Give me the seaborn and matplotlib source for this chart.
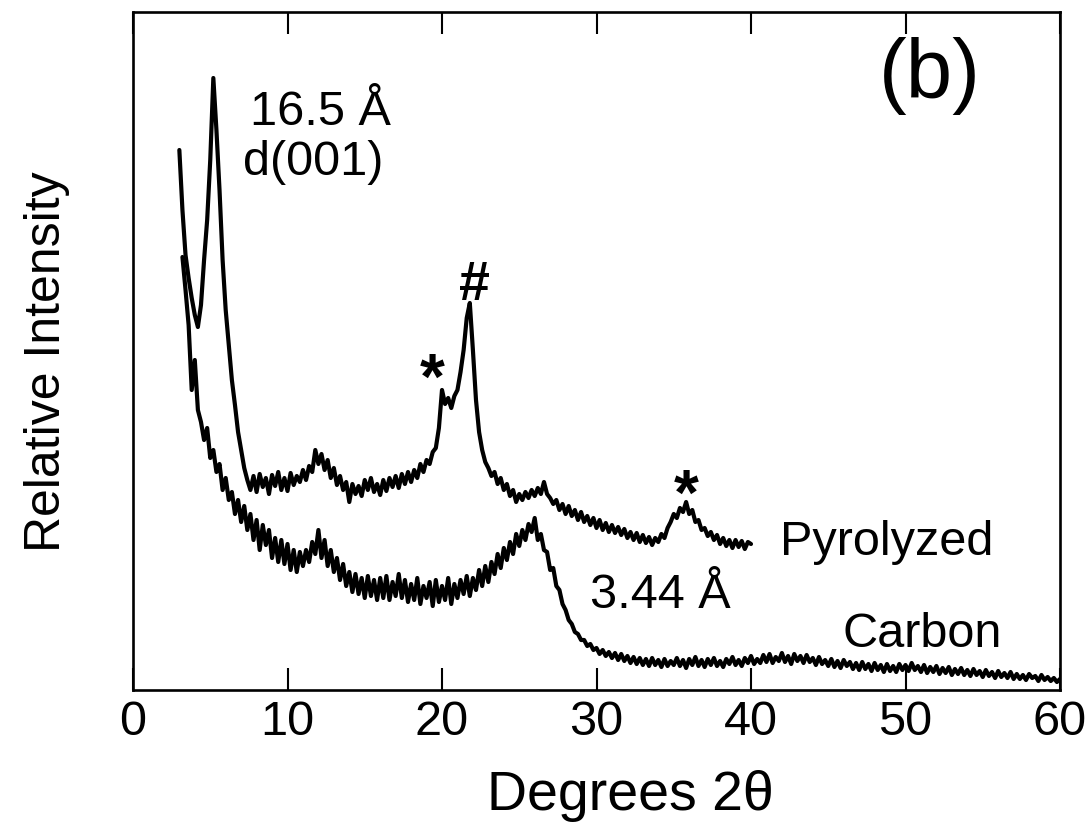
import numpy as np
import pandas as pd
import matplotlib
matplotlib.use("Agg")
import matplotlib.pyplot as plt
import seaborn as sns

# ---------------- data ----------------
# measurement grid: start angle and step (degrees 2-theta)
pyro_start, pyro_step = 3.0, 0.2
carbon_start, carbon_step = 3.2, 0.2

pyrolyzed = [
    540, 480, 435, 412, 392, 375, 363, 385, 430, 470,
    530, 612, 560, 500, 430, 380, 345, 310, 285, 258,
    240, 222, 210, 200, 214, 198, 216, 203, 212, 196,
    215, 204, 218, 200, 212, 199, 217, 205, 214, 208,
    220, 210, 224, 218, 240, 226, 236, 220, 230, 212,
    222, 205, 214, 200, 208, 188, 206, 196, 204, 194,
    210, 200, 212, 198, 206, 195, 210, 199, 212, 203,
    214, 202, 216, 206, 218, 208, 220, 212, 226, 218,
    230, 226, 238, 242, 262, 300, 286, 292, 282, 294,
    300, 318, 340, 372, 387, 340, 290, 258, 240, 228,
    222, 214, 218, 206, 212, 200, 206, 194, 200, 188,
    196, 190, 198, 192, 200, 194, 202, 196, 208, 196,
    192, 186, 190, 180, 186, 176, 184, 174, 180, 170,
    178, 168, 174, 165, 172, 162, 170, 160, 167, 158,
    165, 157, 163, 155, 161, 152, 158, 150, 157, 148,
    155, 147, 153, 145, 152, 148, 156, 152, 162, 168,
    176, 172, 182, 178, 188, 176, 180, 168, 170, 160,
    162, 154, 158, 150, 155, 146, 152, 144, 150, 142,
    150, 143, 149, 141, 148, 146,
]

carbon = [
    433, 400, 365, 300, 330, 280, 268, 250, 262, 232,
    240, 218, 226, 200, 212, 190, 198, 176, 190, 168,
    184, 160, 176, 150, 170, 140, 165, 145, 160, 132,
    152, 128, 150, 126, 146, 120, 140, 118, 138, 124,
    140, 128, 148, 136, 160, 132, 150, 124, 140, 118,
    132, 110, 126, 104, 118, 98, 116, 96, 112, 92,
    114, 94, 110, 90, 112, 92, 114, 90, 108, 94,
    116, 92, 110, 88, 106, 90, 112, 86, 104, 92,
    108, 84, 110, 88, 104, 90, 112, 86, 106, 92,
    110, 96, 114, 94, 112, 100, 120, 104, 124, 108,
    128, 116, 136, 122, 142, 130, 148, 136, 156, 144,
    160, 150, 166, 158, 172, 150, 156, 140, 138, 120,
    122, 104, 100, 86, 80, 70, 66, 58, 56, 50,
    50, 44, 46, 40, 42, 36, 40, 34, 38, 32,
    37, 30, 36, 29, 34, 27, 33, 26, 32, 25,
    31, 24, 32, 25, 30, 23, 31, 24, 29, 25,
    32, 24, 30, 22, 31, 25, 33, 24, 30, 23,
    31, 25, 32, 24, 29, 23, 31, 26, 33, 25,
    30, 24, 32, 27, 34, 26, 31, 27, 35, 28,
    36, 27, 33, 29, 37, 28, 34, 26, 36, 29,
    34, 27, 35, 28, 32, 25, 33, 26, 30, 24,
    31, 23, 29, 22, 30, 24, 28, 21, 27, 20,
    28, 21, 26, 19, 27, 20, 25, 18, 26, 19,
    24, 18, 26, 20, 25, 19, 27, 20, 24, 18,
    25, 17, 23, 18, 24, 16, 22, 17, 23, 15,
    21, 16, 22, 15, 20, 14, 21, 15, 19, 13,
    20, 14, 18, 12, 19, 13, 17, 12, 18, 11,
    16, 11, 15, 10, 16, 12, 14, 9, 15, 10,
    13, 9, 12, 8, 11,
]

x_ticks = [0, 10, 20, 30, 40, 50, 60]
x_label = "Degrees 2θ"
y_label = "Relative Intensity"

# ---------------- figure ----------------
sns.set_theme(style="white")
plt.rcParams["font.family"] = ["Liberation Sans", "DejaVu Sans"]
plt.rcParams["text.color"] = "black"
plt.rcParams["xtick.color"] = "black"
plt.rcParams["xtick.labelcolor"] = "black"

pyro_x = pyro_start + pyro_step * np.arange(len(pyrolyzed))
carbon_x = carbon_start + carbon_step * np.arange(len(carbon))
df = pd.concat([
    pd.DataFrame({"angle": pyro_x, "intensity": pyrolyzed, "sample": "Pyrolyzed"}),
    pd.DataFrame({"angle": carbon_x, "intensity": carbon, "sample": "Carbon"}),
])

fig = plt.figure(figsize=(10.87, 8.23), dpi=100)
ax = fig.add_axes([133 / 1087, 1 - 690 / 823, 927 / 1087, 678 / 823])

sns.lineplot(data=df, x="angle", y="intensity", units="sample", estimator=None,
             sort=False, color="black", linewidth=3.0, legend=False, ax=ax)

ax.set_xlim(0, 60)
ax.set_ylim(0, 678)
ax.set_xticks(x_ticks)
ax.set_yticks([])
ax.set_xlabel("")
ax.set_ylabel("")
for s in ax.spines.values():
    s.set_visible(True)
    s.set_linewidth(1.9)
    s.set_color("black")
ax.tick_params(axis="x", which="both", direction="in", top=True, bottom=True,
               length=16, width=1.5, color="black", pad=7)
for lab in ax.get_xticklabels():
    lab.set_fontfamily(["Liberation Sans Narrow", "Liberation Sans"])
    lab.set_fontsize(35)
    lab.set_color("black")

fig.text(630 / 1087, 1 - 810 / 823, x_label, ha="center", va="baseline",
         fontsize=40, color="black")
fig.text(47 / 1087, 1 - 362 / 823, y_label, ha="center", va="center",
         rotation=90, fontsize=36, color="black")

fs = 35
ax.text(7.6, 565, "16.5 Å", fontsize=fs, ha="left", va="baseline")
ax.text(7.1, 515, "d(001)", fontsize=fs, ha="left", va="baseline")
ax.text(48.3, 592, "(b)", fontsize=60, ha="left", va="baseline")
ax.text(22.07, 390, "#", fontsize=40, fontweight="bold", ha="center", va="baseline")
ax.text(19.35, 291, "*", fontsize=46, fontweight="bold", ha="center", va="baseline")
ax.text(35.8, 175, "*", fontsize=46, fontweight="bold", ha="center", va="baseline")
ax.text(41.9, 135, "Pyrolyzed", fontsize=fs, ha="left", va="baseline")
ax.text(29.6, 82, "3.44 Å", fontsize=fs, ha="left", va="baseline")
ax.text(45.9, 43, "Carbon", fontsize=fs, ha="left", va="baseline")

fig.savefig("out.png", dpi=100, facecolor="white")
